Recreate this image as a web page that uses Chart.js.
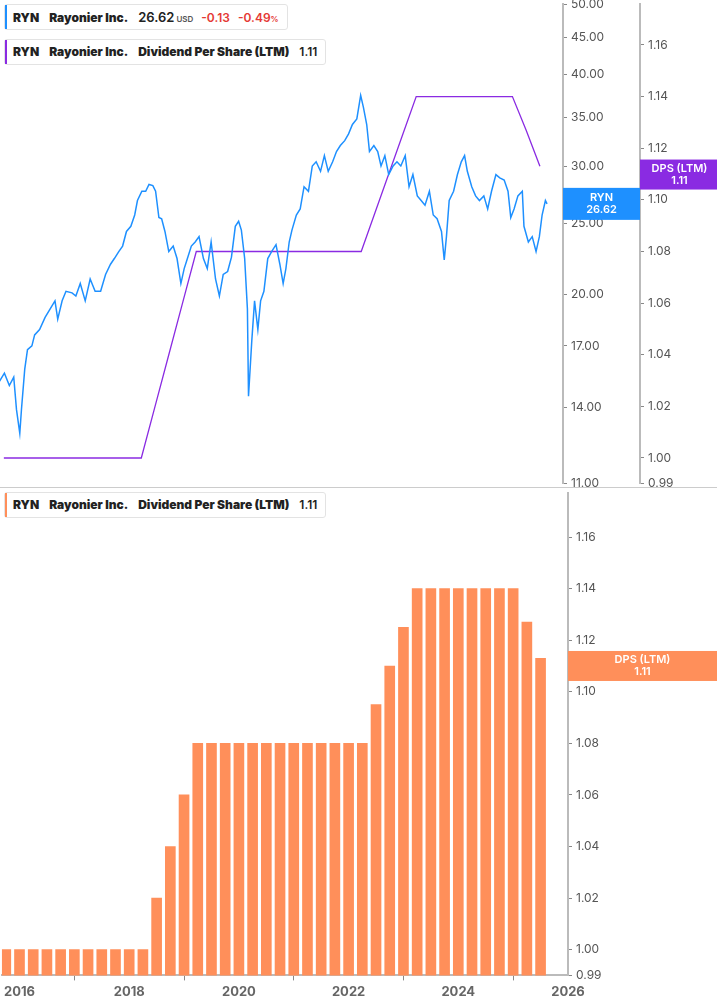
<!DOCTYPE html>
<html><head><meta charset="utf-8">
<script src="https://cdn.jsdelivr.net/npm/chart.js@4"></script>
<style>
body{margin:0;background:#fff;font-family:Inter,"Noto Sans",sans-serif;width:717px;height:1005px;overflow:hidden;position:relative}
.c{position:absolute;left:0;width:717px}
.lg{position:absolute;left:4px;background:#fff;border:1px solid #e3e3e3;border-radius:3px;font-size:12px;font-weight:600;color:#222;padding:0 8px;height:24px;line-height:24px;white-space:nowrap;z-index:2}
.lg b{margin-right:10px}
.sw{position:absolute;left:0;top:0;bottom:0;width:2px}
</style></head><body>
<div class="c" style="top:482px;height:522px"><canvas id="bot"></canvas></div>
<div class="c" style="top:-7px;height:502px"><canvas id="top"></canvas></div>
<div style="position:absolute;left:0;top:487px;width:717px;height:1px;background:#ccc"></div>
<div class="lg" style="top:4px"><span class="sw" style="background:#1e90ff"></span><b>RYN</b><b>Rayonier Inc.</b><span style="font-size:13px">26.62</span><span style="font-size:8px;color:#555;margin:0 8px 0 2px">USD</span><span style="color:#e53935;margin-right:8px">-0.13</span><span style="color:#e53935">-0.49<small style="font-size:8px">%</small></span></div>
<div class="lg" style="top:39px"><span class="sw" style="background:#8a2be2"></span><b>RYN</b><b>Rayonier Inc.</b><b>Dividend Per Share (LTM)</b><span>1.11</span></div>
<div class="lg" style="top:492px"><span class="sw" style="background:#ff8f5a"></span><b>RYN</b><b>Rayonier Inc.</b><b>Dividend Per Share (LTM)</b><span>1.11</span></div>
<script>
const priceDates=[2015.67,2015.76,2015.85,2015.93,2015.98,2016.04,2016.07,2016.13,2016.18,2016.26,2016.31,2016.40,2016.50,2016.59,2016.68,2016.73,2016.81,2016.88,2016.99,2017.06,2017.14,2017.23,2017.32,2017.41,2017.51,2017.60,2017.69,2017.76,2017.84,2017.91,2017.98,2018.06,2018.13,2018.18,2018.26,2018.33,2018.39,2018.46,2018.51,2018.57,2018.62,2018.68,2018.75,2018.83,2018.90,2018.97,2019.03,2019.08,2019.16,2019.23,2019.30,2019.38,2019.45,2019.52,2019.60,2019.67,2019.74,2019.82,2019.89,2019.96,2020.02,2020.07,2020.13,2020.18,2020.20,2020.26,2020.31,2020.37,2020.42,2020.48,2020.55,2020.62,2020.70,2020.77,2020.83,2020.88,2020.94,2020.99,2021.07,2021.14,2021.21,2021.29,2021.36,2021.43,2021.51,2021.58,2021.65,2021.73,2021.80,2021.87,2021.95,2022.02,2022.09,2022.17,2022.24,2022.29,2022.35,2022.40,2022.48,2022.55,2022.61,2022.68,2022.75,2022.83,2022.90,2022.97,2023.05,2023.12,2023.19,2023.27,2023.34,2023.41,2023.49,2023.56,2023.63,2023.71,2023.76,2023.80,2023.85,2023.93,2024.00,2024.07,2024.13,2024.18,2024.26,2024.33,2024.40,2024.48,2024.55,2024.62,2024.70,2024.77,2024.85,2024.92,2024.97,2025.03,2025.10,2025.18,2025.21,2025.29,2025.36,2025.43,2025.49,2025.54,2025.60,2025.63];
const prices=[15.2,15.6,15.0,15.4,13.9,12.9,13.9,15.8,16.8,17.0,17.6,17.9,18.6,19.1,19.6,18.5,19.6,20.2,20.1,19.9,20.7,19.6,21.0,20.2,20.2,21.3,22.0,22.4,22.9,23.3,24.4,24.8,25.7,26.9,27.7,27.7,28.3,28.2,27.7,25.5,25.4,24.4,22.9,23.3,22.4,20.7,21.7,22.3,23.3,23.6,24.0,22.4,21.7,23.6,21.0,19.9,21.3,21.5,22.5,24.8,25.2,24.5,22.4,19.1,14.5,17.3,19.6,17.9,19.6,20.2,22.4,22.9,23.4,22.0,20.7,21.7,23.6,24.5,25.7,26.2,28.1,27.7,30.0,30.4,29.5,31.0,29.5,30.4,31.4,32.0,32.5,33.2,34.2,34.8,37.5,36.1,34.2,31.4,32.0,31.4,30.0,31.0,29.2,30.0,30.4,30.0,31.0,28.1,29.2,27.3,26.9,26.5,27.7,25.7,25.4,24.4,22.3,24.0,26.9,27.7,29.2,30.4,31.0,29.5,28.1,27.3,26.9,27.3,26.2,27.7,29.2,28.9,28.7,27.7,25.5,26.2,27.3,27.7,24.8,23.6,24.0,22.9,24.0,25.7,26.9,26.62];
const dpsDates=[];for(let k=0;k<40;k++)dpsDates.push(2015.75+0.25*k);
const dpsValues=[1,1,1,1,1,1,1,1,1,1,1,1.02,1.04,1.06,1.08,1.08,1.08,1.08,1.08,1.08,1.08,1.08,1.08,1.08,1.08,1.08,1.08,1.095,1.11,1.125,1.14,1.14,1.14,1.14,1.14,1.14,1.14,1.14,1.127,1.113];
const priceTicks=[11,14,17,20,25,30,35,40,45,50];
const dpsTicks=[0.99,1.00,1.02,1.04,1.06,1.08,1.10,1.12,1.14,1.16];
const yearTicks=[2016,2018,2020,2022,2024,2026];

const tickFont={family:'Inter',size:12};
const gridOpts={drawOnChartArea:false,drawTicks:true,tickLength:4,color:'#888'};
const borderOpts={display:true,color:'#bbb',width:2};
function badge(ctx,x,y,w,h,bg,l1,l2){ctx.save();ctx.fillStyle=bg;ctx.fillRect(x,y-h/2,w,h);ctx.fillStyle='#fff';ctx.textAlign='center';ctx.textBaseline='middle';ctx.font='600 11px Inter';ctx.fillText(l1,x+w/2,y-6);ctx.fillText(l2,x+w/2,y+6);ctx.restore();}

new Chart(document.getElementById('top'),{
 type:'line',
 data:{datasets:[
  {data:priceDates.map((d,i)=>({x:d,y:prices[i]})),borderColor:'#1e90ff',borderWidth:1.5,pointRadius:0,tension:0,yAxisID:'p'},
  {data:dpsDates.map((d,i)=>({x:d,y:dpsValues[i]})),borderColor:'#8a2be2',borderWidth:1.3,pointRadius:0,tension:0,yAxisID:'d'}
 ]},
 options:{responsive:true,maintainAspectRatio:false,animation:false,layout:{padding:{top:4,bottom:4}},
  plugins:{legend:{display:false},tooltip:{enabled:false}},
  scales:{
   x:{type:'linear',min:2015.68,max:2025.92,display:false},
   p:{type:'logarithmic',position:'right',min:11,max:50,afterBuildTicks:a=>{a.ticks=priceTicks.map(v=>({value:v}))},afterFit:a=>{a.width=77},
      ticks:{font:tickFont,color:'#555',padding:4,callback:v=>v.toFixed(2)},grid:gridOpts,border:borderOpts},
   d:{type:'linear',position:'right',min:0.99,max:1.1758,afterBuildTicks:a=>{a.ticks=dpsTicks.map(v=>({value:v}))},afterFit:a=>{a.width=77},
      ticks:{font:tickFont,color:'#555',padding:4,callback:v=>v.toFixed(2)},grid:gridOpts,border:borderOpts}
  }},
 plugins:[{id:'b',afterDraw(c){const p=c.scales.p,d=c.scales.d;
   badge(c.ctx,p.left,p.getPixelForValue(prices[prices.length-1]),p.width,32,'#1e90ff','RYN',prices[prices.length-1].toFixed(2));
   badge(c.ctx,d.left,d.getPixelForValue(1.11)+0.5,d.width+2,30,'#8a2be2','DPS (LTM)','1.11');}}]
});

new Chart(document.getElementById('bot'),{
 type:'bar',
 data:{datasets:[{data:dpsDates.map((d,i)=>({x:d,y:dpsValues[i]})),backgroundColor:'#ff8f5a',barThickness:10,yAxisID:'d'}]},
 options:{responsive:true,maintainAspectRatio:false,animation:false,layout:{padding:{top:0}},
  plugins:{legend:{display:false},tooltip:{enabled:false}},
  scales:{
   x:{type:'linear',min:2015.68,max:2026,afterBuildTicks:a=>{a.ticks=yearTicks.map(v=>({value:v}))},offset:false,
      ticks:{font:{family:'Inter',size:13,weight:'bold'},color:'#666',padding:4,callback:v=>String(v)},grid:{drawOnChartArea:false,tickLength:5,color:'#888'},border:borderOpts},
   d:{type:'linear',position:'right',min:0.99,max:1.177,afterBuildTicks:a=>{a.ticks=dpsTicks.map(v=>({value:v}))},afterFit:a=>{a.width=149},
      ticks:{font:tickFont,color:'#555',padding:4,callback:v=>v.toFixed(2)},grid:gridOpts,border:borderOpts}
  }},
 plugins:[{id:'b2',afterDraw(c){const d=c.scales.d;badge(c.ctx,d.left,d.getPixelForValue(1.11),d.width,30,'#ff8f5a','DPS (LTM)','1.11');}}]
});
</script></body></html>
